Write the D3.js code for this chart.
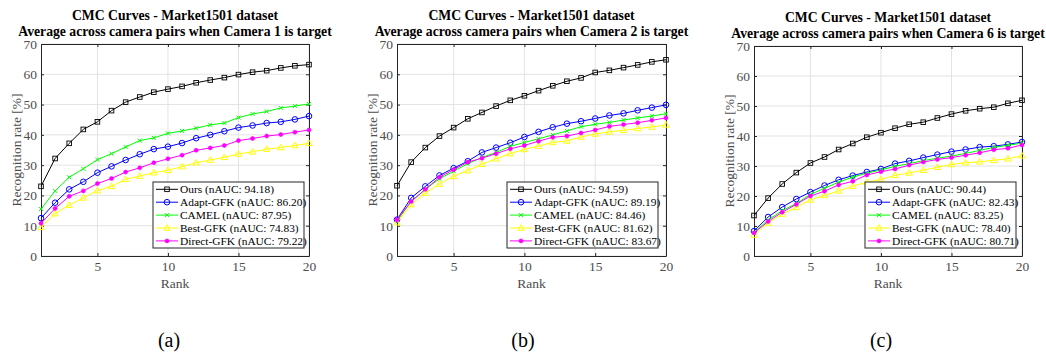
<!DOCTYPE html>
<html>
<head>
<meta charset="utf-8">
<script src="https://cdn.jsdelivr.net/npm/d3@7"></script>
<style>
  body { margin: 0; background: #fff; }
  svg { display: block; }
  text { font-family: "Liberation Serif", "DejaVu Serif", serif; }
</style>
</head>
<body>
<div id="chart"></div>
<script>
// ranks (x axis)
var ranks = [1, 2, 3, 4, 5, 6, 7, 8, 9, 10, 11, 12, 13, 14, 15, 16, 17, 18, 19, 20];
var methods = ["Ours", "Adapt-GFK", "CAMEL", "Best-GFK", "Direct-GFK"];
var yTicks = [0, 10, 20, 30, 40, 50, 60, 70];
var xTicks = [5, 10, 15, 20];

// camera 1 target
var oursA   = [23, 32.2, 37.2, 41.8, 44.3, 48, 50.8, 52.5, 54.1, 55.1, 56, 57.2, 58.1, 58.9, 59.9, 60.7, 61.2, 62.1, 62.8, 63.2];
var adaptA  = [12.5, 17.6, 22, 24.5, 27.5, 29.6, 31.7, 33.6, 35.3, 36.1, 37.3, 38.9, 40, 41.2, 42.4, 43.1, 43.9, 44.3, 45.1, 46.2];
var camelA  = [15.5, 21.5, 26, 28.8, 31.8, 33.8, 36, 38.1, 39, 40.5, 41.3, 42.2, 43.3, 43.9, 45.7, 46.9, 47.7, 48.9, 49.5, 50.2];
var bestA   = [9.5, 14, 16.8, 19.2, 21.6, 23, 25.3, 26.4, 27.5, 28.3, 29.5, 30.8, 31.7, 32.6, 33.7, 34.4, 35.3, 35.8, 36.5, 37.2];
var directA = [10.8, 15.7, 19.7, 21.5, 23.9, 25.6, 27.7, 29.1, 30.8, 32.1, 33.3, 34.9, 35.7, 36.5, 38.1, 38.8, 39.6, 40.1, 40.9, 41.6];
var naucA   = ["94.18", "86.20", "87.95", "74.83", "79.22"];

// camera 2 target
var oursB   = [23.2, 31, 35.8, 39.6, 42.4, 45.3, 47.4, 49.5, 51.4, 52.9, 54.6, 56.2, 57.7, 58.8, 60.6, 61.3, 62.2, 63.1, 64.1, 64.8];
var adaptB  = [12, 19.2, 23, 26.6, 29, 31.3, 34.2, 35.8, 37.4, 39.3, 41, 42.5, 43.7, 44.5, 45.4, 46.4, 47.1, 48.1, 49, 49.9];
var camelB  = [11.5, 18, 22, 25.5, 28, 30.5, 32.5, 34.2, 36.2, 37.5, 38.7, 40, 41.3, 42.7, 43.5, 44.1, 44.9, 45.6, 46.2, 47];
var bestB   = [11, 17, 20.8, 23.8, 26.3, 28.2, 30.3, 32.1, 33.8, 35.2, 36.3, 37.5, 38, 39.3, 40.3, 41, 41.5, 42.1, 42.6, 43.3];
var directB = [12, 18, 22, 26, 28.5, 31, 32.3, 33.8, 35.4, 36.5, 37.9, 39.2, 39.6, 40.6, 41.6, 42.8, 43.4, 44, 44.8, 45.6];
var naucB   = ["94.59", "89.19", "84.46", "81.62", "83.67"];

// camera 6 target
var oursC   = [13.5, 19.3, 24, 27.8, 31, 33, 35.5, 37.5, 39.6, 41.1, 42.6, 43.9, 44.6, 46, 47.3, 48.4, 49.1, 49.6, 50.9, 51.9];
var adaptC  = [8.3, 13, 16.3, 19, 21.3, 23.5, 25.4, 26.8, 28, 29, 30.8, 31.7, 32.8, 33.8, 34.8, 35.5, 36.3, 36.6, 37.2, 38];
var camelC  = [7.8, 12, 15.1, 17.5, 20.5, 22.6, 24.6, 26.3, 27.6, 28.7, 29.9, 30.8, 31.8, 32.6, 33.3, 34.2, 35.2, 36.2, 36.9, 37.6];
var bestC   = [7, 11, 14, 16.2, 18.7, 20.2, 21.7, 23.3, 24.6, 25.5, 26.9, 27.7, 28.6, 29.6, 30.5, 31.1, 31.4, 31.9, 32.4, 33.4];
var directC = [7.7, 11.5, 14.6, 17.2, 20, 21.6, 23.7, 24.9, 27, 28.1, 29, 30.3, 31.3, 32.2, 32.8, 33.6, 34.4, 35.4, 35.9, 37];
var naucC   = ["90.44", "82.43", "83.25", "78.40", "80.71"];

var colors = ["#000000", "#0000ff", "#00ff00", "#ffff00", "#ff00ff"];
var shapes = ["square", "circle", "cross", "triangle", "dot"];
var FONT = "'Liberation Serif', 'DejaVu Serif', serif";

var panels = [
  {cam: 1, cap: "(a)", series: [oursA, adaptA, camelA, bestA, directA], nauc: naucA,
   left: 41, right: 309, top: 44, bottom: 256, titleY: 15.5, legX: 153},
  {cam: 2, cap: "(b)", series: [oursB, adaptB, camelB, bestB, directB], nauc: naucB,
   left: 397, right: 666, top: 44, bottom: 256, titleY: 15.5, legX: 507},
  {cam: 6, cap: "(c)", series: [oursC, adaptC, camelC, bestC, directC], nauc: naucC,
   left: 754, right: 1022, top: 46, bottom: 256, titleY: 17.5, legX: 865}
];

var svg = d3.select("#chart").append("svg")
  .attr("width", 1046)
  .attr("height", 354)
  .attr("font-family", FONT);

function drawMarker(g, shape, color, cx, cy) {
  if (shape == "square") {
    g.append("rect").attr("x", cx - 2.3).attr("y", cy - 2.3).attr("width", 4.6).attr("height", 4.6)
      .attr("fill", "none").attr("stroke", color).attr("stroke-width", 0.9);
  } else if (shape == "circle") {
    g.append("circle").attr("cx", cx).attr("cy", cy).attr("r", 2.8)
      .attr("fill", "none").attr("stroke", color).attr("stroke-width", 1);
  } else if (shape == "cross") {
    g.append("path").attr("d", "M" + (cx - 2) + "," + (cy - 2) + "L" + (cx + 2) + "," + (cy + 2) +
        "M" + (cx - 2) + "," + (cy + 2) + "L" + (cx + 2) + "," + (cy - 2))
      .attr("stroke", color).attr("stroke-width", 1);
  } else if (shape == "triangle") {
    g.append("path").attr("d", "M" + cx + "," + (cy - 3.3) + "L" + (cx + 3.2) + "," + (cy + 2.3) +
        "L" + (cx - 3.2) + "," + (cy + 2.3) + "Z")
      .attr("fill", "none").attr("stroke", color).attr("stroke-width", 1);
  } else {
    g.append("circle").attr("cx", cx).attr("cy", cy).attr("r", 2)
      .attr("fill", color).attr("stroke", color).attr("stroke-width", 0.6);
  }
}

panels.forEach(function(p) {
  var x = d3.scaleLinear().domain([1, 20]).range([p.left, p.right]);
  var y = d3.scaleLinear().domain([0, 70]).range([p.bottom, p.top]);
  var g = svg.append("g");
  var cx = (p.left + p.right) / 2;

  // grid
  g.selectAll(".gx").data(xTicks).enter().append("line")
    .attr("x1", function(d) { return x(d); }).attr("x2", function(d) { return x(d); })
    .attr("y1", p.top).attr("y2", p.bottom)
    .attr("stroke", "#e3e3e3").attr("stroke-width", 1);
  g.selectAll(".gy").data(yTicks).enter().append("line")
    .attr("x1", p.left).attr("x2", p.right)
    .attr("y1", function(d) { return y(d); }).attr("y2", function(d) { return y(d); })
    .attr("stroke", "#e3e3e3").attr("stroke-width", 1);

  // axes (ticks inward)
  var ax = g.append("g").attr("transform", "translate(0," + p.bottom + ")")
    .call(d3.axisBottom(x).tickValues(xTicks).tickSizeInner(-3).tickSizeOuter(0).tickPadding(5));
  var ay = g.append("g").attr("transform", "translate(" + p.left + ",0)")
    .call(d3.axisLeft(y).tickValues(yTicks).tickSizeInner(-3).tickSizeOuter(0).tickPadding(4));
  var ay2 = g.append("g").attr("transform", "translate(" + p.right + ",0)")
    .call(d3.axisRight(y).tickValues(yTicks).tickSizeInner(-3).tickSizeOuter(0).tickFormat(""));
  var ax2 = g.append("g").attr("transform", "translate(0," + p.top + ")")
    .call(d3.axisTop(x).tickValues(xTicks).tickSizeInner(-3).tickSizeOuter(0).tickFormat(""));
  [ax, ay, ay2, ax2].forEach(function(a) {
    a.attr("font-family", FONT);
    a.select(".domain").attr("stroke", "#262626");
    a.selectAll(".tick line").attr("stroke", "#262626");
    a.selectAll("text").attr("fill", "#4d4d4d").attr("font-size", 13.5)
      .attr("font-family", FONT);
  });

  // series
  var line = d3.line()
    .x(function(d, i) { return x(ranks[i]); })
    .y(function(d) { return y(d); });
  p.series.forEach(function(s, k) {
    g.append("path").datum(s).attr("d", line)
      .attr("fill", "none").attr("stroke", colors[k]).attr("stroke-width", 1);
    s.forEach(function(v, i) { drawMarker(g, shapes[k], colors[k], x(ranks[i]), y(v)); });
  });

  // titles
  g.append("text").attr("x", cx).attr("y", p.titleY).attr("text-anchor", "middle")
    .attr("dy", "0.35em").attr("font-weight", "bold").attr("font-size", 13.7)
    .attr("font-family", FONT)
    .text("CMC Curves - Market1501 dataset");
  g.append("text").attr("x", cx).attr("y", p.titleY + 16).attr("text-anchor", "middle")
    .attr("dy", "0.35em").attr("font-weight", "bold").attr("font-size", 13.7)
    .attr("font-family", FONT)
    .text("Average across camera pairs when Camera " + p.cam + " is target");

  // axis labels
  g.append("text").attr("x", cx).attr("y", 283).attr("text-anchor", "middle")
    .attr("dy", "0.35em").attr("fill", "#4d4d4d").attr("font-size", 13.5)
    .attr("font-family", FONT).text("Rank");
  g.append("text").attr("transform", "translate(" + (p.left - 25) + "," + ((p.top + p.bottom) / 2) + ")rotate(-90)")
    .attr("text-anchor", "middle").attr("dy", "0.35em")
    .attr("fill", "#4d4d4d").attr("font-size", 13.5)
    .attr("font-family", FONT).text("Recognition rate [%]");

  // legend
  var lg = g.append("g");
  var rowH = 12.9;
  var legW = 151;
  lg.append("rect").attr("x", p.legX).attr("y", 182).attr("width", legW).attr("height", 66)
    .attr("fill", "#fff").attr("stroke", "#262626").attr("stroke-width", 1);
  methods.forEach(function(m, k) {
    var yy = 189.3 + k * rowH;
    lg.append("line").attr("x1", p.legX + 3).attr("x2", p.legX + 25)
      .attr("y1", yy).attr("y2", yy).attr("stroke", colors[k]).attr("stroke-width", 1);
    drawMarker(lg, shapes[k], colors[k], p.legX + 14, yy);
    lg.append("text").attr("x", p.legX + 27).attr("y", yy).attr("dy", "0.35em")
      .attr("font-size", 11.4).attr("fill", "#000").attr("font-family", FONT)
      .text(m + " (nAUC: " + p.nauc[k] + ")");
  });

  // caption
  svg.append("text").attr("x", p.legX + 16).attr("y", 340).attr("text-anchor", "middle")
    .attr("dy", "0.35em").attr("font-size", 20).attr("font-family", FONT).text(p.cap);
});
</script>
</body>
</html>
